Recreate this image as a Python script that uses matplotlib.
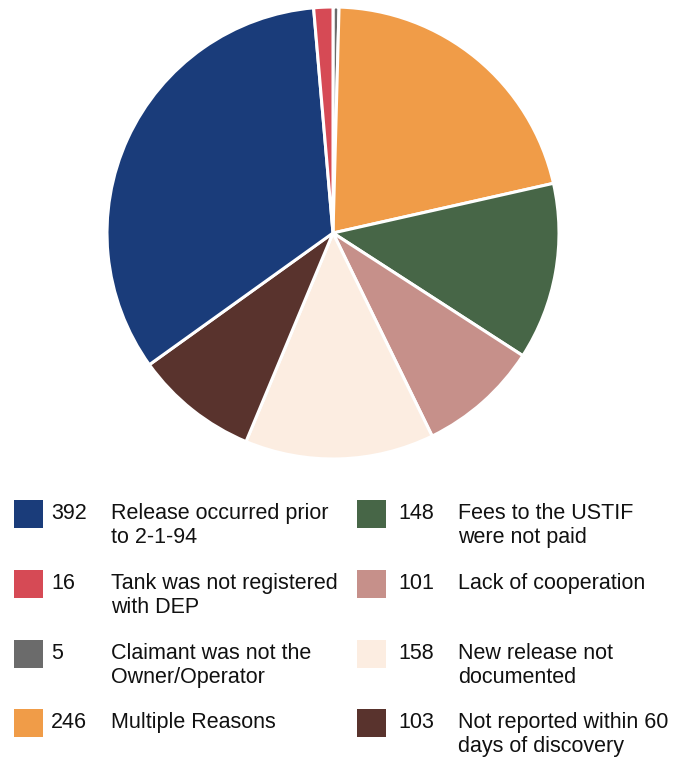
import matplotlib
matplotlib.use("Agg")
import matplotlib.pyplot as plt
from matplotlib.patches import Rectangle

plt.rcParams['font.family'] = ['Liberation Sans', 'DejaVu Sans']

# legend order (left column then right column)
counts = [392, 16, 5, 246, 148, 101, 158, 103]
labels = [
    "Release occurred prior\nto 2-1-94",
    "Tank was not registered\nwith DEP",
    "Claimant was not the\nOwner/Operator",
    "Multiple Reasons",
    "Fees to the USTIF\nwere not paid",
    "Lack of cooperation",
    "New release not\ndocumented",
    "Not reported within 60\ndays of discovery",
]
colors = ["#1a3c7a", "#d64a55", "#6b6b6b", "#f09c48",
          "#476647", "#c6908a", "#fcede1", "#59332d"]

# order of slices clockwise from 12 o'clock
pie_order = [2, 3, 4, 5, 6, 7, 0, 1]

W, H = 676, 759
fig = plt.figure(figsize=(W / 100, H / 100), dpi=100)

def fx(px):
    return px / W

def fy(py):
    return 1 - py / H

# pie
cx, cy, r = 333, 233, 226
ax = fig.add_axes([fx(cx - r), fy(cy + r), 2 * r / W, 2 * r / H])
ax.pie([counts[i] for i in pie_order],
       colors=[colors[i] for i in pie_order],
       startangle=90, counterclock=False, radius=1,
       wedgeprops=dict(edgecolor="white", linewidth=2.2))
ax.set_xlim(-1, 1)
ax.set_ylim(-1, 1)
ax.set_aspect("equal")
ax.axis("off")

# legend
sq_x = [14, 357]
num_x = [51, 398]
lab_x = [111, 458]
base_y = [519, 589, 659, 728]
fs = 15.5
for k in range(8):
    col, row = divmod(k, 4)
    b = base_y[row]
    fig.patches.append(Rectangle((fx(sq_x[col]), fy(b + 9)), 29 / W, 28 / H,
                                 transform=fig.transFigure,
                                 facecolor=colors[k], edgecolor="none"))
    fig.text(fx(num_x[col]), fy(b), str(counts[k]), fontsize=fs,
             va="baseline", ha="left", color="#111111")
    lines = labels[k].split("\n")
    for j, line in enumerate(lines):
        fig.text(fx(lab_x[col]), fy(b + 24 * j), line, fontsize=fs,
                 va="baseline", ha="left", color="#111111")

fig.savefig("out.png", dpi=100)
